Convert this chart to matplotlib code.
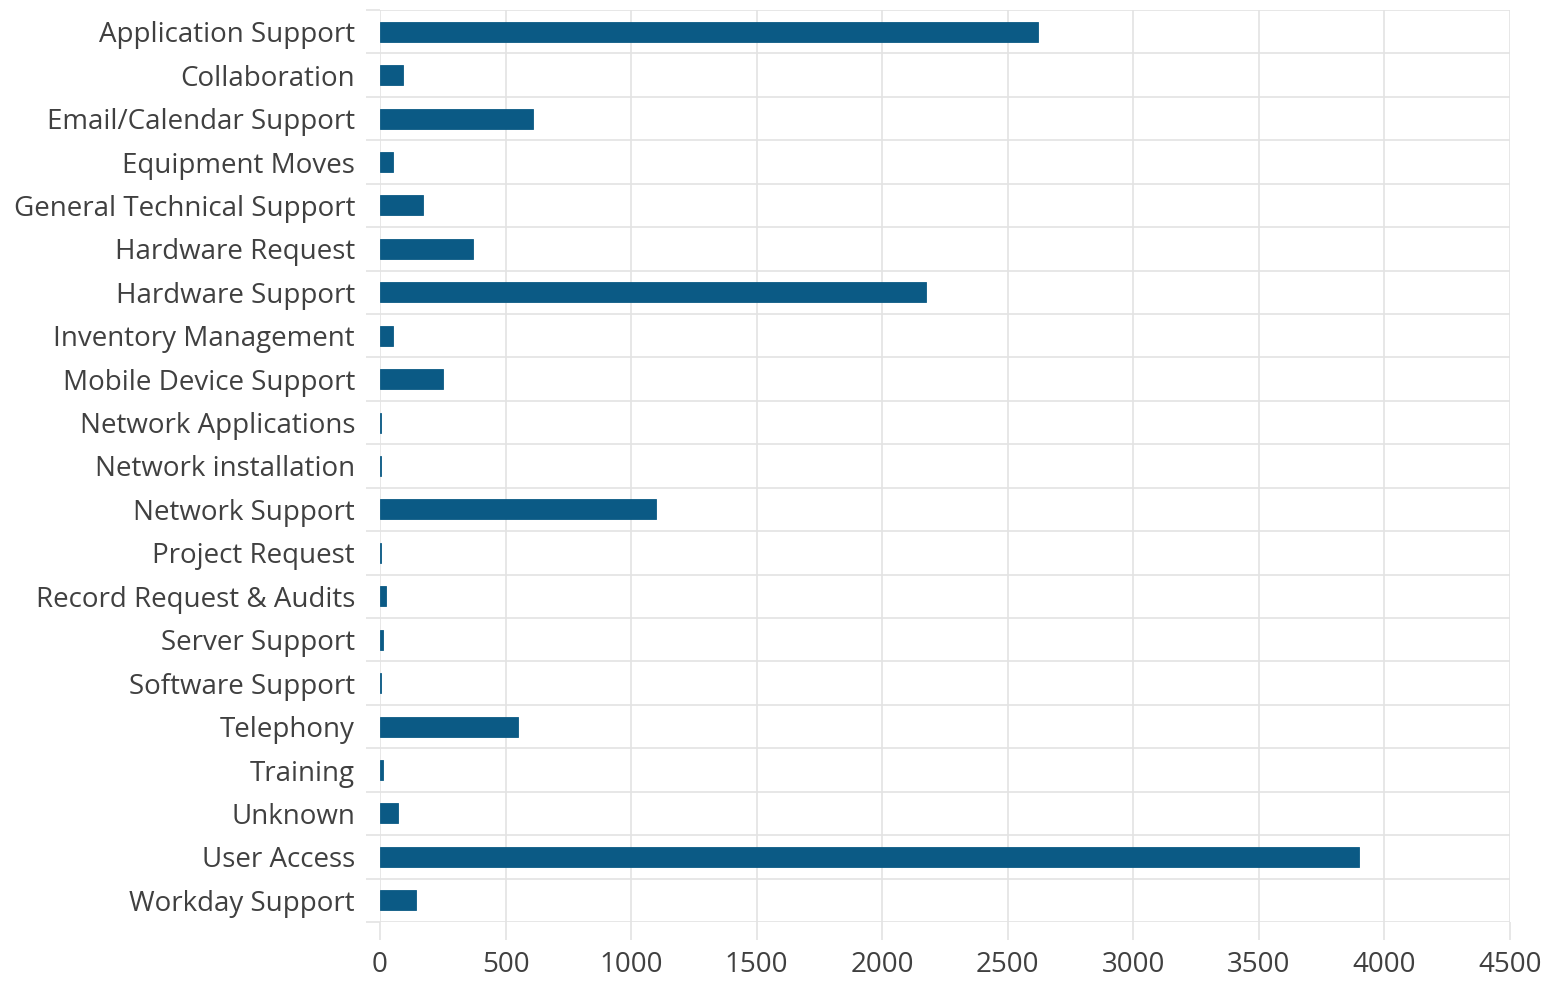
import matplotlib
matplotlib.use("Agg")
import matplotlib.pyplot as plt
import numpy as np

categories = [
    "Application Support", "Collaboration", "Email/Calendar Support", "Equipment Moves",
    "General Technical Support", "Hardware Request", "Hardware Support", "Inventory Management",
    "Mobile Device Support", "Network Applications", "Network installation", "Network Support",
    "Project Request", "Record Request & Audits", "Server Support", "Software Support",
    "Telephony", "Training", "Unknown", "User Access", "Workday Support",
]
values = [2620, 92, 609, 52, 171, 370, 2174, 52, 251, 4, 4, 1099, 3, 24, 12, 3, 550, 12, 72, 3899, 143]
x_ticks = [0, 500, 1000, 1500, 2000, 2500, 3000, 3500, 4000, 4500]

plt.rcParams['font.family'] = ['Open Sans', 'DejaVu Sans']
fig = plt.figure(figsize=(15.49, 9.84), dpi=100)
ax = fig.add_axes([380/1549, 1-922/984, 1130/1549, 912/984])

y = np.arange(len(categories))
ax.barh(y, values, height=0.46, color='#0b5a85', edgecolor='#0b5a85', linewidth=0.6, zorder=3)

ax.set_xlim(0, 4500)
ax.set_ylim(len(categories)-0.5, -0.5)
ax.set_xticks(x_ticks)
ax.set_xticklabels([str(t) for t in x_ticks])
ax.set_yticks(y)
ax.set_yticklabels(categories)
ax.set_yticks(np.arange(len(categories)+1)-0.5, minor=True)

grid_c = '#e3e3e3'
ax.grid(axis='x', which='major', color=grid_c, linewidth=1.2, zorder=0)
ax.grid(axis='y', which='minor', color=grid_c, linewidth=1.2, zorder=0)
ax.grid(axis='y', which='major', visible=False)
for s in ax.spines.values():
    s.set_visible(False)

ax.tick_params(axis='x', which='major', length=13, color=grid_c, width=1.2,
               labelsize=20, labelcolor='#404040', pad=8)
ax.tick_params(axis='y', which='major', length=0, labelsize=20, labelcolor='#404040', pad=18)
ax.tick_params(axis='y', which='minor', length=10, color=grid_c, width=1.2)

fig.savefig("out.png", dpi=100)
